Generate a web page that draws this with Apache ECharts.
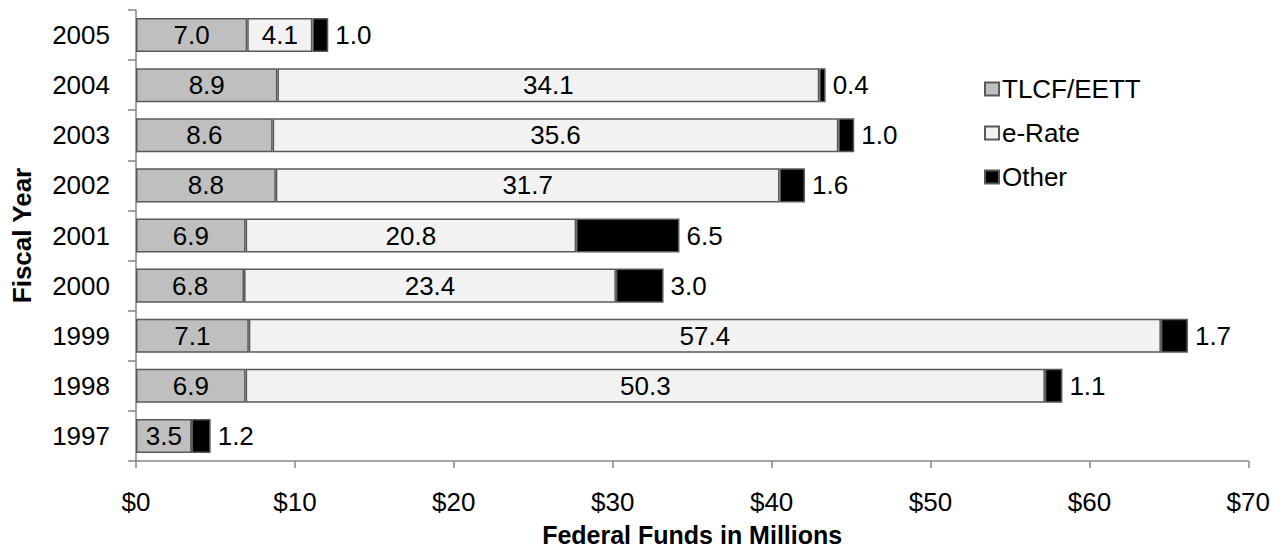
<!DOCTYPE html>
<html>
<head>
<meta charset="utf-8">
<style>
  html, body { margin: 0; padding: 0; background: #fff; }
  #chart { width: 1273px; height: 552px; }
</style>
<script src="https://cdn.jsdelivr.net/npm/echarts@6/dist/echarts.min.js"></script>
</head>
<body>
<div id="chart"></div>
<script>
var years = ['1997', '1998', '1999', '2000', '2001', '2002', '2003', '2004', '2005'];
var tlcf = [3.5, 6.9, 7.1, 6.8, 6.9, 8.8, 8.6, 8.9, 7.0];
var erate = [0, 50.3, 57.4, 23.4, 20.8, 31.7, 35.6, 34.1, 4.1];
var other = [1.2, 1.1, 1.7, 3.0, 6.5, 1.6, 1.0, 0.4, 1.0];
var xTicks = [0, 10, 20, 30, 40, 50, 60, 70];

(function() {
  var font = '"Liberation Sans", Arial, sans-serif';
  var axisGray = '#868686';
  var edge = '#595959';

  function fmt(p) { return p.value ? p.value.toFixed(1) : ''; }

  var chart = echarts.init(document.getElementById('chart'), null, { renderer: 'svg' });
  chart.setOption({
    animation: false,
    textStyle: { fontFamily: font },
    grid: { left: 136, right: 24, top: 10, bottom: 80 },
    legend: {
      orient: 'vertical', left: 979, top: 71, icon: 'rect',
      itemWidth: 14, itemHeight: 13, itemGap: 18,
      textStyle: { fontFamily: font, fontSize: 26, color: '#000', padding: [0, 0, 0, -2] },
      data: ['TLCF/EETT', 'e-Rate', 'Other']
    },
    xAxis: {
      type: 'value', min: xTicks[0], max: xTicks[xTicks.length - 1], interval: 10,
      name: 'Federal Funds in Millions', nameLocation: 'middle', nameGap: 61,
      nameTextStyle: { fontFamily: font, fontSize: 25, fontWeight: 'bold', color: '#000' },
      axisLine: { show: true, lineStyle: { color: axisGray, width: 1.5 } },
      axisTick: { show: true, length: 7, lineStyle: { color: axisGray, width: 1.5 } },
      splitLine: { show: false },
      axisLabel: { fontFamily: font, fontSize: 26, color: '#000', margin: 28, formatter: '${value}' }
    },
    yAxis: {
      type: 'category', data: years,
      name: 'Fiscal Year', nameLocation: 'middle', nameGap: 101, nameRotate: 90,
      nameTextStyle: { fontFamily: font, fontSize: 26, fontWeight: 'bold', color: '#000' },
      axisLine: { show: true, lineStyle: { color: axisGray, width: 1.5 } },
      axisTick: { show: true, length: 8, lineStyle: { color: axisGray, width: 1.5 } },
      axisLabel: { fontFamily: font, fontSize: 26, color: '#000', margin: 26 }
    },
    series: [
      {
        name: 'TLCF/EETT', type: 'bar', stack: 'total', data: tlcf, barCategoryGap: '32%',
        itemStyle: { color: '#bfbfbf', borderColor: edge, borderWidth: 1.5 },
        label: { show: true, position: 'inside', fontFamily: font, fontSize: 26, color: '#000', formatter: fmt }
      },
      {
        name: 'e-Rate', type: 'bar', stack: 'total', data: erate,
        itemStyle: { color: '#f2f2f2', borderColor: edge, borderWidth: 1.5 },
        label: { show: true, position: 'inside', fontFamily: font, fontSize: 26, color: '#000', formatter: fmt }
      },
      {
        name: 'Other', type: 'bar', stack: 'total', data: other,
        itemStyle: { color: '#000000', borderColor: edge, borderWidth: 1.5 },
        label: { show: true, position: 'right', distance: 7, fontFamily: font, fontSize: 26, color: '#000', formatter: fmt }
      }
    ]
  });
  window.addEventListener('resize', function() { chart.resize(); });
})();
</script>
</body>
</html>
